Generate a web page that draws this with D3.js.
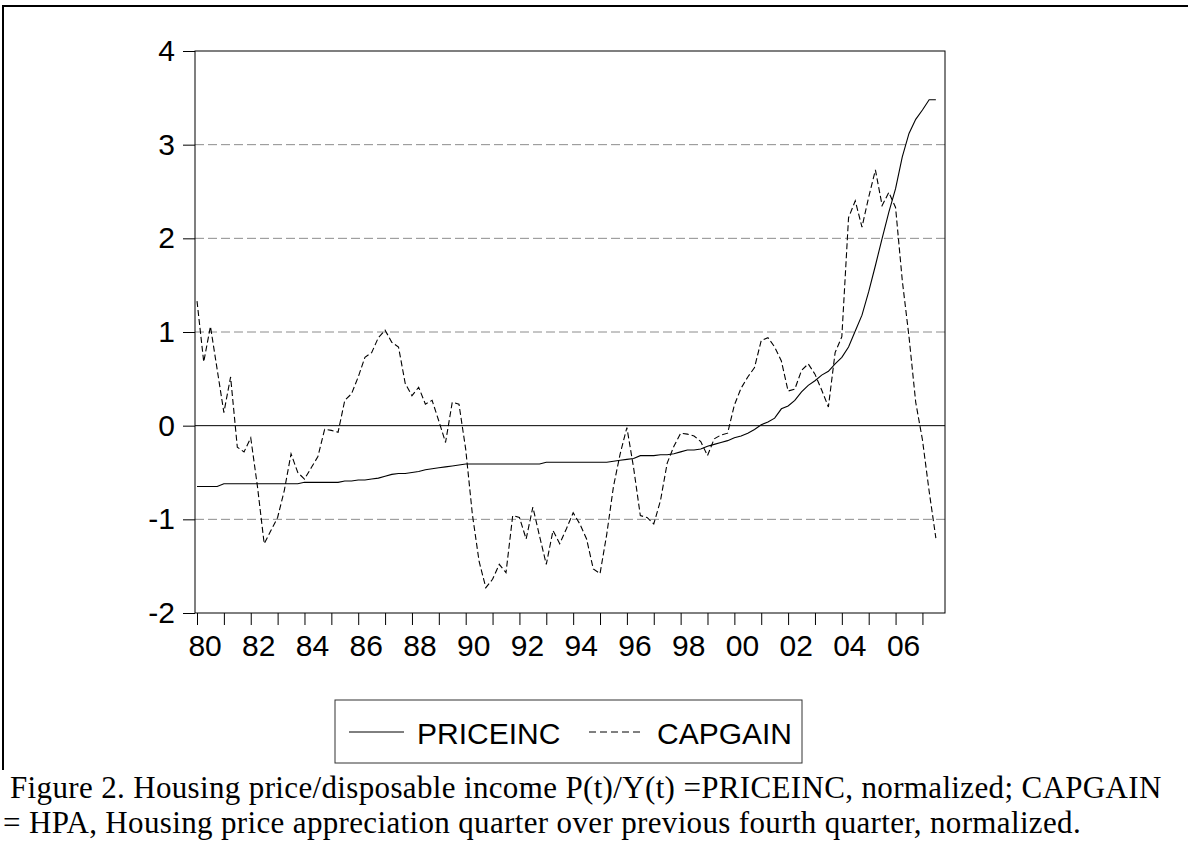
<!DOCTYPE html>
<html>
<head>
<meta charset="utf-8">
<script src="https://cdn.jsdelivr.net/npm/d3@7"></script>
<style>
  body { margin: 0; background: #fff; }
  svg { display: block; }
</style>
</head>
<body>
<svg id="chart" width="1188" height="841"></svg>
<script>
// quarterly, 1980Q1 .. 2007Q3
const startYear = 1980;
const priceinc = [
  -0.65, -0.65, -0.65, -0.65, -0.62, -0.62, -0.62, -0.62, -0.62, -0.62,
  -0.62, -0.62, -0.62, -0.62, -0.62, -0.62, -0.605, -0.605, -0.605, -0.605,
  -0.605, -0.605, -0.59, -0.59, -0.58, -0.58, -0.57, -0.56, -0.54, -0.52,
  -0.51, -0.51, -0.50, -0.49, -0.47, -0.46, -0.45, -0.44, -0.43, -0.42,
  -0.41, -0.41, -0.41, -0.41, -0.41, -0.41, -0.41, -0.41, -0.41, -0.41,
  -0.41, -0.41, -0.39, -0.39, -0.39, -0.39, -0.39, -0.39, -0.39, -0.39,
  -0.39, -0.39, -0.38, -0.37, -0.36, -0.35, -0.32, -0.32, -0.32, -0.31,
  -0.31, -0.30, -0.28, -0.26, -0.26, -0.25, -0.22, -0.20, -0.18, -0.16,
  -0.13, -0.11, -0.08, -0.04, 0.01, 0.04, 0.08, 0.18, 0.21, 0.27,
  0.36, 0.43, 0.48, 0.54, 0.58, 0.66, 0.73, 0.84, 1.01, 1.18,
  1.43, 1.71, 2.00, 2.28, 2.53, 2.87, 3.12, 3.27, 3.37, 3.48,
  3.48
];
const capgain = [
  1.33, 0.68, 1.06, 0.60, 0.14, 0.52, -0.23, -0.28, -0.13, -0.65,
  -1.26, -1.12, -0.98, -0.69, -0.30, -0.50, -0.57, -0.45, -0.33, -0.04,
  -0.05, -0.07, 0.27, 0.34, 0.52, 0.73, 0.78, 0.94, 1.02, 0.89,
  0.84, 0.45, 0.32, 0.41, 0.23, 0.27, 0.05, -0.18, 0.25, 0.23,
  -0.25, -0.95, -1.45, -1.73, -1.64, -1.48, -1.57, -0.96, -0.98, -1.21,
  -0.87, -1.18, -1.48, -1.12, -1.26, -1.10, -0.93, -1.05, -1.21, -1.53,
  -1.58, -1.16, -0.65, -0.30, -0.02, -0.45, -0.96, -0.98, -1.05, -0.80,
  -0.40, -0.22, -0.08, -0.09, -0.11, -0.17, -0.32, -0.14, -0.10, -0.08,
  0.22, 0.40, 0.52, 0.62, 0.91, 0.94, 0.84, 0.69, 0.37, 0.39,
  0.59, 0.66, 0.55, 0.38, 0.20, 0.78, 0.95, 2.22, 2.40, 2.12,
  2.44, 2.73, 2.35, 2.49, 2.33, 1.55, 0.95, 0.25, -0.15, -0.70,
  -1.20
];
const yTicks = [-2, -1, 0, 1, 2, 3, 4];
const gridValues = [-1, 1, 2, 3];
const yearTicks = d3.range(1980, 2008);
const labelYears = d3.range(1980, 2008, 2);
const legendNames = ["PRICEINC", "CAPGAIN"];
const captionLines = [
  "Figure 2. Housing price/disposable income P(t)/Y(t) =PRICEINC, normalized; CAPGAIN",
  "= HPA, Housing price appreciation quarter over previous fourth quarter, normalized."
];

const svg = d3.select("#chart");
const plotL = 195, plotR = 945, plotT = 51, plotB = 613;
const sans = "Liberation Sans, Arial, sans-serif";

// outer frame of the figure cell
svg.append("line").attr("x1", 3).attr("x2", 1188).attr("y1", 6).attr("y2", 6)
  .attr("stroke", "#000").attr("stroke-width", 2);
svg.append("line").attr("x1", 3).attr("x2", 3).attr("y1", 5).attr("y2", 770)
  .attr("stroke", "#000").attr("stroke-width", 2);

const x = d3.scaleLinear()
  .domain([startYear - 0.075, startYear + 27.84])
  .range([plotL, plotR]);
const y = d3.scaleLinear().domain([-2, 4]).range([plotB, plotT]);

const tOf = i => startYear + i / 4;

// grid
svg.append("g").selectAll("line")
  .data(gridValues)
  .join("line")
  .attr("x1", plotL).attr("x2", plotR)
  .attr("y1", d => y(d)).attr("y2", d => y(d))
  .attr("stroke", "#8c8c8c")
  .attr("stroke-dasharray", "9,4");

svg.append("line")
  .attr("x1", plotL).attr("x2", plotR)
  .attr("y1", y(0)).attr("y2", y(0))
  .attr("stroke", "#000");

// plot frame
svg.append("rect")
  .attr("x", plotL).attr("y", plotT)
  .attr("width", plotR - plotL).attr("height", plotB - plotT)
  .attr("fill", "none").attr("stroke", "#000");

// y axis
const yAxis = d3.axisLeft(y).tickValues(yTicks).tickSize(12).tickPadding(8).tickFormat(d => String(d));
const gy = svg.append("g").attr("transform", `translate(${plotL},0)`).call(yAxis);
gy.select(".domain").remove();
gy.selectAll("text").attr("font-family", sans).attr("font-size", 30).attr("fill", "#000");

// x axis
const xAxis = d3.axisBottom(x).tickValues(yearTicks).tickSize(12).tickFormat("");
const gx = svg.append("g").attr("transform", `translate(0,${plotB})`).call(xAxis);
gx.select(".domain").remove();

svg.append("g").selectAll("text")
  .data(labelYears)
  .join("text")
  .attr("x", d => x(d + 0.3))
  .attr("y", 656)
  .attr("text-anchor", "middle")
  .attr("font-family", sans)
  .attr("font-size", 30)
  .text(d => String(d % 100).padStart(2, "0"));

// series
const line = d3.line()
  .x((d, i) => x(tOf(i)))
  .y(d => y(d));

svg.append("path")
  .datum(priceinc)
  .attr("d", line)
  .attr("fill", "none")
  .attr("stroke", "#000")
  .attr("stroke-width", 1.1);

svg.append("path")
  .datum(capgain)
  .attr("d", line)
  .attr("fill", "none")
  .attr("stroke", "#000")
  .attr("stroke-width", 1.1)
  .attr("stroke-dasharray", "6,3");

// legend
const legend = svg.append("g");
legend.append("rect")
  .attr("x", 335).attr("y", 700).attr("width", 467).attr("height", 63)
  .attr("fill", "none").attr("stroke", "#333");

const legendItems = [
  { name: legendNames[0], x0: 349, dash: null },
  { name: legendNames[1], x0: 589, dash: "7,4" }
];
legendItems.forEach(it => {
  legend.append("line")
    .attr("x1", it.x0).attr("x2", it.x0 + 55)
    .attr("y1", 732).attr("y2", 732)
    .attr("stroke", "#000")
    .attr("stroke-dasharray", it.dash);
  legend.append("text")
    .attr("x", it.x0 + 68).attr("y", 744)
    .attr("font-family", sans)
    .attr("font-size", 30)
    .text(it.name);
});

// caption
svg.append("g").selectAll("text")
  .data(captionLines)
  .join("text")
  .attr("x", (d, i) => i === 0 ? 10 : 3)
  .attr("y", (d, i) => 798 + i * 35)
  .attr("font-family", "Liberation Serif, Times New Roman, serif")
  .attr("font-size", 31)
  .attr("letter-spacing", 0.35)
  .text(d => d);
</script>
</body>
</html>
